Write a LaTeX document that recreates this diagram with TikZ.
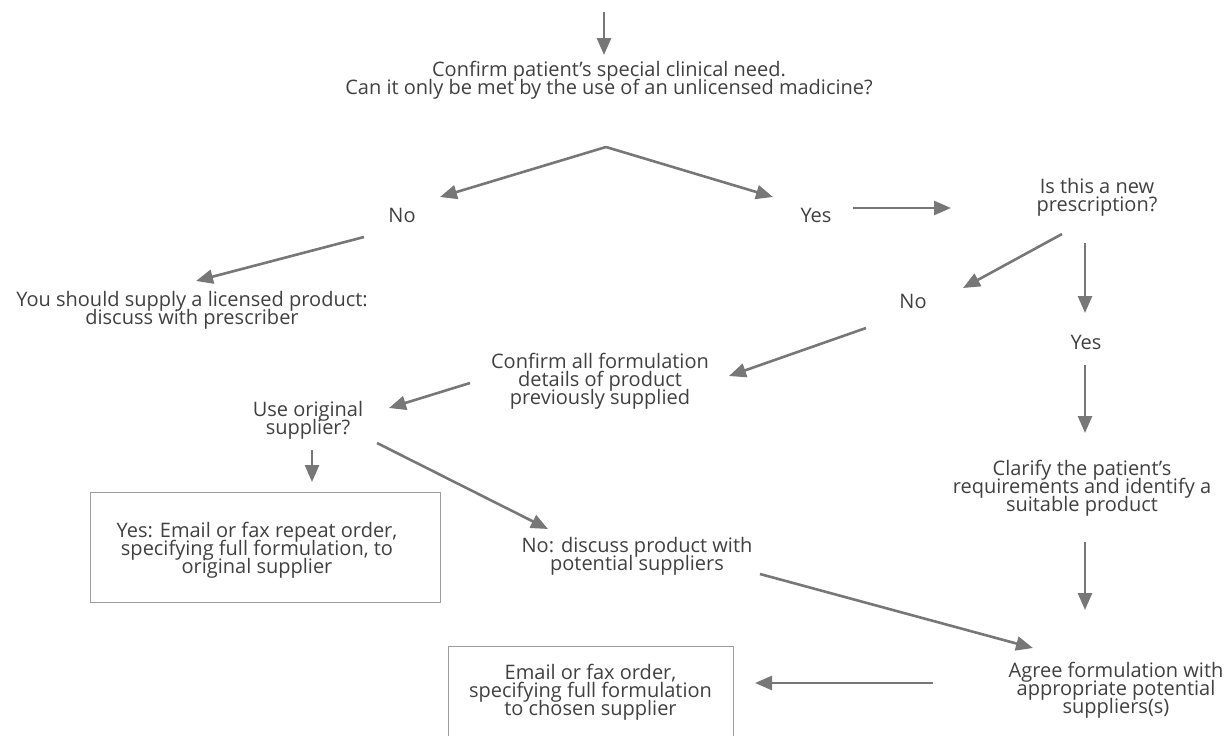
\documentclass[tikz,border=0pt]{standalone}
\usepackage{fontspec}
\setmainfont{Open Sans}
\usetikzlibrary{arrows.meta}
\definecolor{txt}{HTML}{404040}
\definecolor{arr}{HTML}{777777}
\definecolor{boxc}{HTML}{9C9C9C}
\begin{document}
\begin{tikzpicture}[x=1pt,y=-1pt,
  t/.style={text=txt, align=center, font={\fontsize{20}{18}\selectfont\lineskiplimit=-20pt\lineskip=0pt}, inner sep=0pt},
  ar/.style={draw=arr, line width=2.6pt, -{Triangle[length=17pt,width=14pt]}},
  bx/.style={draw=boxc, line width=1pt}]
\useasboundingbox (0,0) rectangle (1232,736);
% text nodes
\node[t] (confirm) at (609,80) {Confirm patient’s special clinical need.\\Can it only be met by the use of an unlicensed madicine?};
\node[t] (no1) at (402,215) {No};
\node[t] (yes1) at (816,215) {Yes};
\node[t] (new) at (1097,197) {Is this a new\\prescription?};
\node[t] (no2) at (913,301) {No};
\node[t] (yes2) at (1086,342) {Yes};
\node[t] (lic) at (192,310) {You should supply a licensed product:\\discuss with prescriber};
\node[t] (cfd) at (600,381) {Confirm all formulation\\details of product\\previously supplied};
\node[t] (orig) at (308,420) {Use original\\supplier?};
\node[t] (clar) at (1082,488) {Clarify the patient’s\\requirements and identify a\\suitable product};
\node[t] (nodisc) at (637,556) {No: discuss product with\\potential suppliers};
\node[t] (agree) at (1116,690) {Agree formulation with\\appropriate potential\\suppliers(s)};
% boxes
\node[bx, minimum width=350pt, minimum height=110pt, inner sep=0pt] (box1) at (265,547) {};
\node[t] (box1t) at (257,550) {Yes: Email or fax repeat order,\\specifying full formulation, to\\original supplier};
\node[bx, minimum width=285pt, minimum height=110pt, inner sep=0pt] (box2) at (590.5,701) {};
\node[t] (box2t) at (590.5,692) {Email or fax order,\\specifying full formulation\\to chosen supplier};
% arrow endpoints
\coordinate (s0) at (604,12);   \coordinate (e0) at (604,55);
\coordinate (ap) at (606,147);
\coordinate (e1) at (440,197);  \coordinate (e2) at (773,197);
\coordinate (s3) at (853,208);  \coordinate (e3) at (951,208);
\coordinate (s4) at (1062,234); \coordinate (e4) at (963,288);
\coordinate (s5) at (1085,243); \coordinate (e5) at (1085,313);
\coordinate (s6) at (364,237);  \coordinate (e6) at (196,281);
\coordinate (s7) at (866,328);  \coordinate (e7) at (729,376);
\coordinate (s8) at (1085,365); \coordinate (e8) at (1085,433);
\coordinate (s9) at (470,383);  \coordinate (e9) at (389,408);
\coordinate (s10) at (312,450); \coordinate (e10) at (312,482);
\coordinate (s11) at (377,443); \coordinate (e11) at (548,529);
\coordinate (s12) at (1085,542);\coordinate (e12) at (1085,610);
\coordinate (s13) at (760,574); \coordinate (e13) at (1033,648);
\coordinate (s14) at (933,683); \coordinate (e14) at (755,683);
% connectors
\draw[ar] (s0) -- (e0);
\draw[ar] (ap) -- (e1);
\draw[ar] (ap) -- (e2);
\draw[ar] (s3) -- (e3);
\draw[ar] (s4) -- (e4);
\draw[ar] (s5) -- (e5);
\draw[ar] (s6) -- (e6);
\draw[ar] (s7) -- (e7);
\draw[ar] (s8) -- (e8);
\draw[ar] (s9) -- (e9);
\draw[ar] (s10) -- (e10);
\draw[ar] (s11) -- (e11);
\draw[ar] (s12) -- (e12);
\draw[ar] (s13) -- (e13);
\draw[ar] (s14) -- (e14);
\end{tikzpicture}
\end{document}
